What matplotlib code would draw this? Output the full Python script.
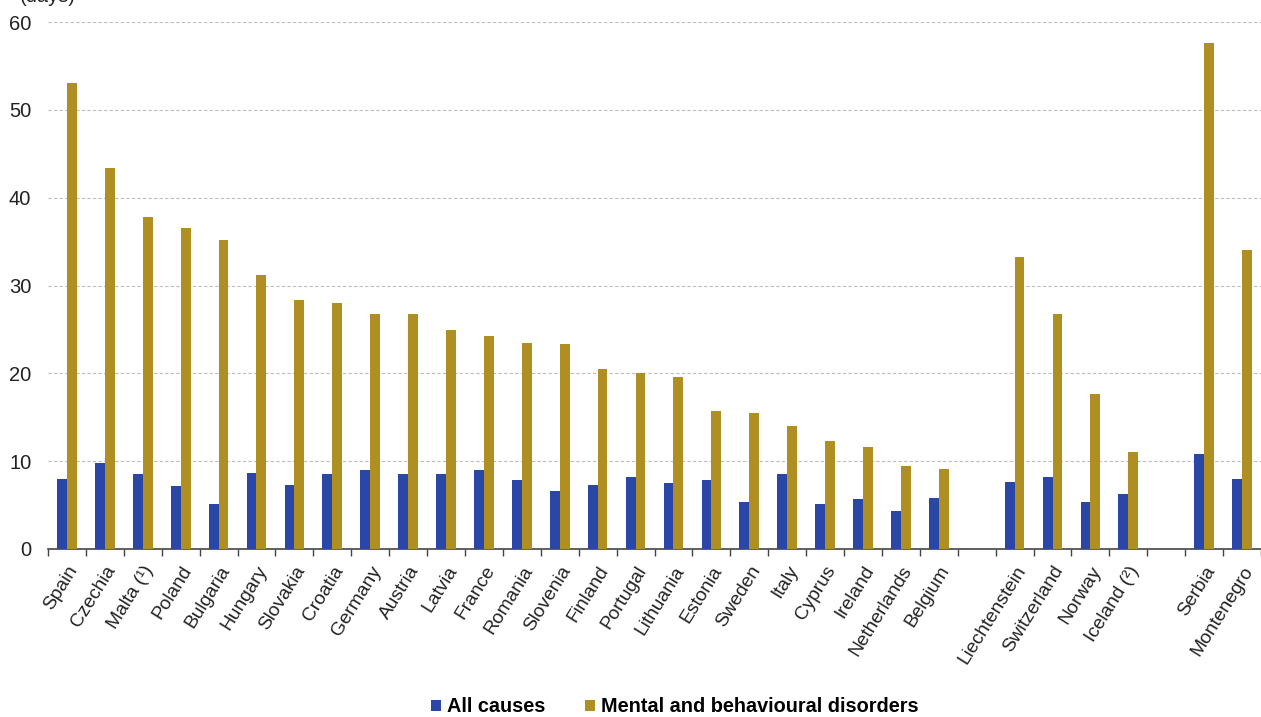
import numpy as np
import matplotlib
matplotlib.use("Agg")
import matplotlib.pyplot as plt

plt.rcParams['font.family'] = ['Liberation Sans', 'DejaVu Sans']

# countries in plotting order, empty strings are spacer slots between groups
countries = ["Spain", "Czechia", "Malta (\u00b9)", "Poland", "Bulgaria", "Hungary",
             "Slovakia", "Croatia", "Germany", "Austria", "Latvia", "France",
             "Romania", "Slovenia", "Finland", "Portugal", "Lithuania", "Estonia",
             "Sweden", "Italy", "Cyprus", "Ireland", "Netherlands", "Belgium",
             "",
             "Liechtenstein", "Switzerland", "Norway", "Iceland (\u00b2)",
             "",
             "Serbia", "Montenegro"]

all_causes = [8.0, 9.8, 8.5, 7.2, 5.1, 8.6, 7.3, 8.5, 9.0, 8.5, 8.5, 9.0,
              7.8, 6.6, 7.3, 8.2, 7.5, 7.8, 5.4, 8.5, 5.1, 5.7, 4.3, 5.8,
              np.nan,
              7.6, 8.2, 5.4, 6.3,
              np.nan,
              10.8, 8.0]

mental = [53.0, 43.4, 37.8, 36.6, 35.2, 31.2, 28.4, 28.0, 26.8, 26.7, 24.9, 24.2,
          23.4, 23.3, 20.5, 20.0, 19.6, 15.7, 15.5, 14.0, 12.3, 11.6, 9.5, 9.1,
          np.nan,
          33.3, 26.8, 17.7, 11.1,
          np.nan,
          57.6, 34.0]

blue = '#2a46a6'
gold = '#b08f22'

W, H = 1261, 717
fig = plt.figure(figsize=(W / 100, H / 100), dpi=100)
ax = fig.add_axes([48 / W, (H - 549) / H, (W - 48) / W, (549 - 22) / H])

x = np.arange(len(countries))
bw = 0.26
ax.bar(x - bw / 2, all_causes, width=bw, color=blue, label="All causes", zorder=3)
ax.bar(x + bw / 2, mental, width=bw, color=gold, label="Mental and behavioural disorders", zorder=3)

ax.set_xlim(-0.5, 31.25)
ax.set_ylim(0, 60)
ax.set_yticks(range(0, 61, 10))
ax.yaxis.grid(True, linestyle=(0, (3, 2)), color='#bdbdbd', linewidth=0.8, zorder=0)
ax.tick_params(axis='y', length=0, labelsize=14.5, pad=12, labelcolor='#222222')

ax.set_xticks(x)
ax.set_xticklabels(countries, rotation=58, ha='right', rotation_mode='anchor',
                   fontsize=13.8, color='#222222')
ax.tick_params(axis='x', which='major', length=0, pad=10)
ax.set_xticks(np.arange(-0.5, 32, 1.0), minor=True)
ax.tick_params(axis='x', which='minor', length=5, width=1, color='#444444', direction='out')

for s in ('top', 'right', 'left'):
    ax.spines[s].set_visible(False)
ax.spines['bottom'].set_color('#444444')
ax.spines['bottom'].set_linewidth(1.2)

# unit label sits at the very top edge
fig.text(20 / W, 1.0 + 4 / H, "(days)", fontsize=14.5, va='center', ha='left', color='#222222')

fig.legend(loc='center', bbox_to_anchor=(0.535, (H - 707) / H), ncol=2, frameon=False,
           handlelength=0.5, handleheight=0.5, handletextpad=0.3, columnspacing=2.0,
           prop={'weight': 'bold', 'size': 14.3})

fig.savefig("out.png", dpi=100)
